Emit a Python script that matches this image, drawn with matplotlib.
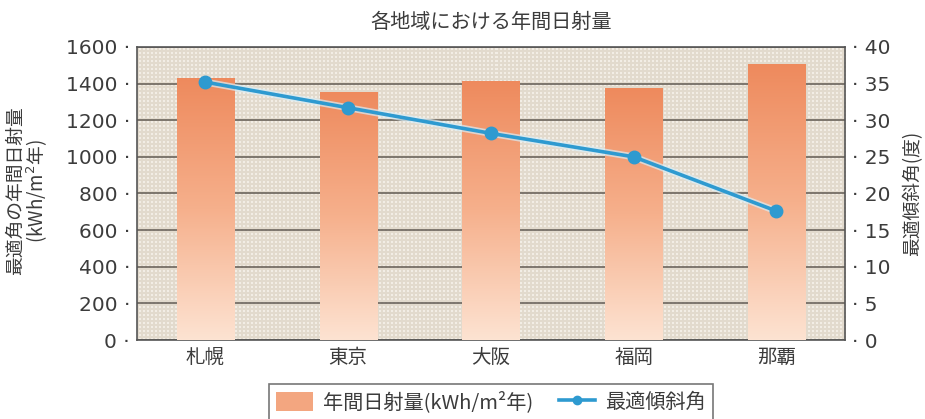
import numpy as np
import matplotlib
matplotlib.use('Agg')
import matplotlib.pyplot as plt
from matplotlib.colors import LinearSegmentedColormap
from matplotlib.patches import Patch
from matplotlib.lines import Line2D
from matplotlib.ticker import FuncFormatter, MultipleLocator

plt.rcParams['font.family'] = ['Noto Sans CJK JP', 'DejaVu Sans']

# data
cities = ['札幌', '東京', '大阪', '福岡', '那覇']
radiation = [1430, 1355, 1415, 1375, 1505]      # kWh/m2 per year
tilt_angle = [35.2, 31.7, 28.2, 25.0, 17.6]      # degrees

title = '各地域における年間日射量'
left_label = '最適角の年間日射量\n(kWh/m$^2$年)'
right_label = '最適傾斜角(度)'
bar_label = '年間日射量(kWh/m²年)'
line_label = '最適傾斜角'

text_col = '#3c3c3c'
line_col = '#2e9ad0'


def main():
    fig = plt.figure(figsize=(9.25, 4.19), dpi=100)
    ax = fig.add_axes([0.148, 0.1885, 0.7655, 0.6995])
    ax.set_facecolor('#eee8de')

    # fine paper-like grid texture behind everything
    ny, nx = 146, 354
    yy, xx = np.indices((ny, nx))
    tex = np.where((xx % 2 == 0) | (yy % 2 == 0), 1.0, 0.0)
    tex_cmap = LinearSegmentedColormap.from_list('tex', ['#f2ede5', '#e2dacd'])
    ax.imshow(tex, cmap=tex_cmap, extent=[0, 1, 0, 1], transform=ax.transAxes,
              aspect='auto', interpolation='nearest', zorder=0)

    x = np.arange(len(cities))
    ax.grid(axis='y', color='#6b645b', linewidth=1.2, zorder=1)
    ax.set_axisbelow(True)

    # bars with vertical gradient
    grad_cmap = LinearSegmentedColormap.from_list('bar', ['#fde3d2', '#f6b08c', '#ee8a5d'])
    grad = np.linspace(0, 1, 256).reshape(-1, 1)
    w = 0.40
    bars = ax.bar(x, radiation, width=w, color='#f3a27c', zorder=2)
    for b, xi, h in zip(bars, x, radiation):
        im = ax.imshow(grad, cmap=grad_cmap, origin='lower', aspect='auto',
                       extent=[xi - w / 2, xi + w / 2, 0, h], zorder=3)
        im.set_clip_path(b)
    ax.set_xlim(-0.48, len(cities) - 0.52)
    ax.set_ylim(0, 1600)
    ax.yaxis.set_major_locator(MultipleLocator(200))

    ax.set_xticks(x)
    ax.set_xticklabels(cities, fontsize=14, color=text_col)
    ax.tick_params(axis='x', length=0, pad=5)
    ax.yaxis.set_major_formatter(FuncFormatter(lambda v, p: f'{v:.0f} ·'))
    ax.tick_params(axis='y', length=0, pad=5, labelcolor=text_col)
    for t in ax.get_yticklabels():
        t.set_fontfamily('DejaVu Sans')
        t.set_fontsize(14.5)
    for s in ax.spines.values():
        s.set_color('#555555')
        s.set_linewidth(1.2)

    ax2 = ax.twinx()
    ax2.plot(x, tilt_angle, color='#d8eef8', linewidth=5, alpha=0.7, zorder=4)
    ax2.plot(x, tilt_angle, color=line_col, linewidth=2.6, marker='o',
             markersize=9, zorder=5)
    ax2.set_ylim(0, 40)
    ax2.yaxis.set_major_locator(MultipleLocator(5))
    ax2.yaxis.set_major_formatter(FuncFormatter(lambda v, p: f'· {v:.0f}'))
    ax2.tick_params(axis='y', length=0, pad=5, labelcolor=text_col)
    for t in ax2.get_yticklabels():
        t.set_fontfamily('DejaVu Sans')
        t.set_fontsize(14.5)
    for s in ax2.spines.values():
        s.set_visible(False)

    # axis titles placed in figure coordinates
    fig.text(0.030, 0.545, left_label, rotation=90, ha='center', va='center',
             fontsize=13.5, color=text_col, linespacing=0.95)
    fig.text(0.987, 0.539, right_label, rotation=90, ha='center', va='center',
             fontsize=13.5, color=text_col)

    fig.text(0.531, 0.947, title, ha='center', va='center', fontsize=14.5,
             color=text_col)

    handles = [Patch(facecolor='#f3a680', edgecolor='none'),
               Line2D([0], [0], color=line_col, linewidth=2.6, marker='o',
                      markersize=6)]
    leg = fig.legend(handles, [bar_label, line_label], loc='upper center',
                     bbox_to_anchor=(0.531, 0.083), ncol=2, fontsize=14.5,
                     frameon=True, fancybox=False, handlelength=1.8,
                     handleheight=1.1, handletextpad=0.5, columnspacing=1.3,
                     borderpad=0.35, borderaxespad=0)
    leg.get_frame().set_edgecolor('#555555')
    leg.get_frame().set_linewidth(1.2)
    for t in leg.get_texts():
        t.set_color(text_col)

    fig.savefig('out.png', dpi=100)


if __name__ == '__main__':
    main()
